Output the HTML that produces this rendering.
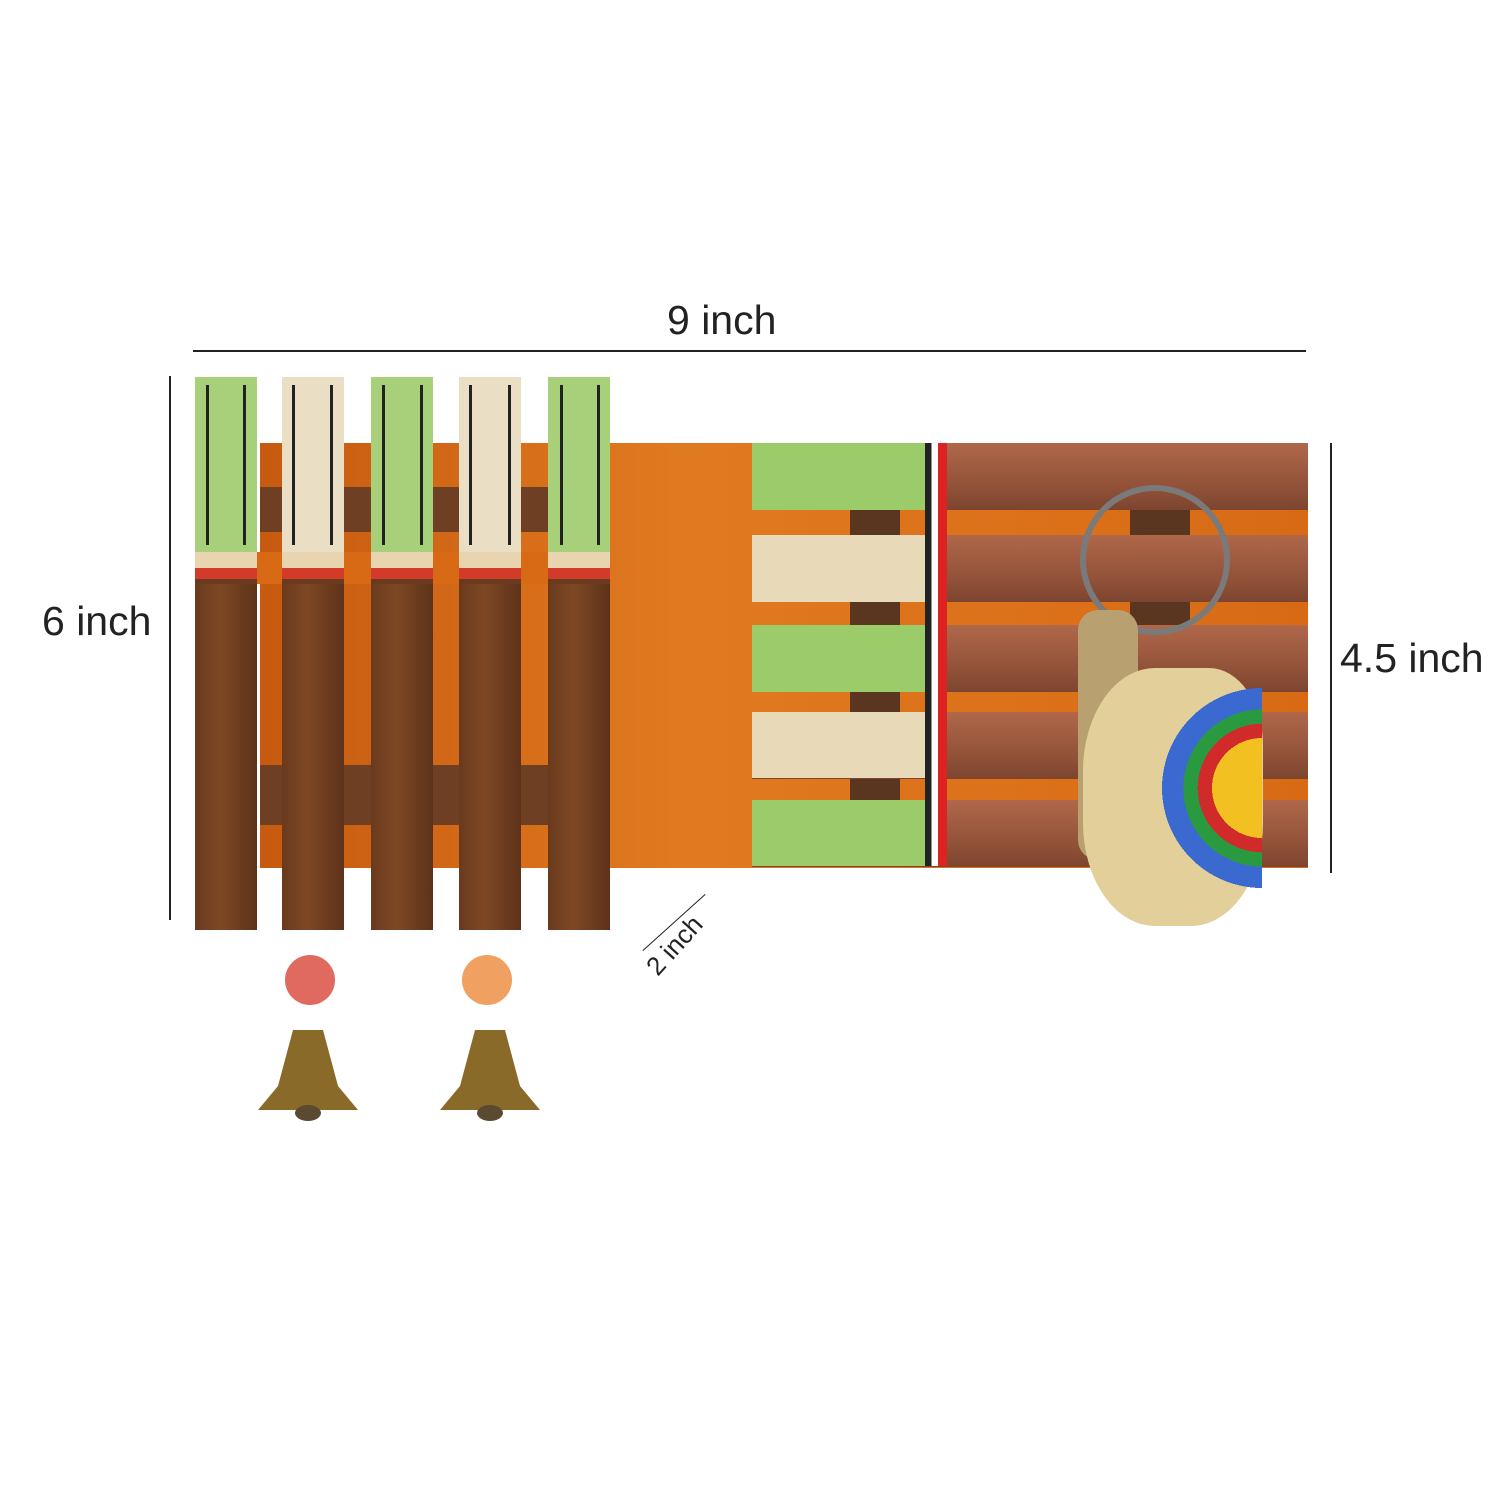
<!DOCTYPE html>
<html><head><meta charset="utf-8"><style>
body{margin:0;width:1500px;height:1500px;background:#fff;position:relative;overflow:hidden;font-family:"Liberation Sans",sans-serif}
div{position:absolute}
.t{color:#222;font-size:41px;white-space:nowrap}
.vs{width:62px;top:377px;height:553px;background:linear-gradient(90deg,#6a3a1e,#7e4824 40%,#5e321a)}
.hs{left:752px;width:556px;height:67px;background:linear-gradient(#b0674a,#94543a 60%,#7d452f)}
.ln{width:3px;height:160px;top:385px;background:#222}
</style></head><body>
<div class="t" style="left:667px;top:297px">9 inch</div>
<div style="left:193px;top:350px;width:1113px;height:2px;background:#222"></div>
<div style="left:169px;top:376px;width:2px;height:544px;background:#222"></div>
<div class="t" style="left:42px;top:598px">6 inch</div>
<div style="left:1330px;top:443px;width:2px;height:430px;background:#222"></div>
<div class="t" style="left:1340px;top:635px">4.5 inch</div>
<div style="left:632px;top:922px;width:84px;height:1px;background:#222;transform:rotate(-42deg)"></div>
<div class="t" style="left:640px;top:930px;font-size:26px;transform:rotate(-48deg)">2 inch</div>

<div style="left:260px;top:443px;width:1048px;height:425px;background:linear-gradient(90deg,#c65a10,#e07a20 40%,#d86a15)"></div>
<div style="left:260px;top:487px;width:350px;height:45px;background:#6e3f22"></div>
<div style="left:260px;top:765px;width:350px;height:60px;background:#6e3f22"></div>
<div style="left:850px;top:510px;width:50px;height:290px;background:#5a3520"></div>
<div style="left:1130px;top:510px;width:60px;height:290px;background:#5a3520"></div>

<div class="hs" style="top:443px"></div>
<div class="hs" style="top:535px"></div>
<div class="hs" style="top:625px"></div>
<div class="hs" style="top:712px"></div>
<div class="hs" style="top:800px"></div>
<div style="left:752px;top:443px;width:190px;height:67px;background:#9ccb6a"></div>
<div style="left:752px;top:535px;width:190px;height:67px;background:#e8d9b8"></div>
<div style="left:752px;top:625px;width:190px;height:67px;background:#9ccb6a"></div>
<div style="left:752px;top:712px;width:190px;height:66px;background:#e8d9b8"></div>
<div style="left:752px;top:800px;width:190px;height:66px;background:#9ccb6a"></div>
<div style="left:925px;top:443px;width:22px;height:423px;background:linear-gradient(90deg,#222 0 30%,#fff 30% 60%,#d22 60%)"></div>

<div class="vs" style="left:195px"></div>
<div class="vs" style="left:282px"></div>
<div class="vs" style="left:371px"></div>
<div class="vs" style="left:459px"></div>
<div class="vs" style="left:548px"></div>
<div style="left:195px;top:377px;width:62px;height:175px;background:#a8d07a"></div>
<div style="left:282px;top:377px;width:62px;height:175px;background:#eadfc4"></div>
<div style="left:371px;top:377px;width:62px;height:175px;background:#a8d07a"></div>
<div style="left:459px;top:377px;width:62px;height:175px;background:#eadfc4"></div>
<div style="left:548px;top:377px;width:62px;height:175px;background:#a8d07a"></div>
<div class="ln" style="left:206px"></div><div class="ln" style="left:243px"></div>
<div class="ln" style="left:292px"></div><div class="ln" style="left:330px"></div>
<div class="ln" style="left:382px"></div><div class="ln" style="left:420px"></div>
<div class="ln" style="left:469px"></div><div class="ln" style="left:508px"></div>
<div class="ln" style="left:560px"></div><div class="ln" style="left:597px"></div>
<div style="left:195px;top:552px;width:415px;height:32px;background:linear-gradient(#e8d5b0 0 50%,#d23a2a 50% 85%,#6a3a1e 85%)"></div>
<div style="left:257px;top:552px;width:25px;height:32px;background:#d86a15"></div>
<div style="left:344px;top:552px;width:27px;height:32px;background:#d86a15"></div>
<div style="left:433px;top:552px;width:26px;height:32px;background:#d86a15"></div>
<div style="left:521px;top:552px;width:27px;height:32px;background:#d86a15"></div>

<div style="left:1080px;top:485px;width:150px;height:150px;border:6px solid #7a7a7a;border-radius:50%;box-sizing:border-box"></div>
<div style="left:1078px;top:610px;width:60px;height:250px;background:#b8a070;border-radius:20px"></div>
<div style="left:1083px;top:668px;width:180px;height:258px;background:#e2cf9a;border-radius:40% 30% 40% 40%"></div>
<div style="left:1160px;top:688px;width:102px;height:200px;background:radial-gradient(circle at 100% 50%,#f2c020 0 35%,#d02a2a 35% 45%,#2a9a40 45% 55%,#3a6ad0 55% 70%,transparent 70%)"></div>

<div style="left:285px;top:955px;width:50px;height:50px;border-radius:50%;background:#e06a60"></div>
<div style="left:258px;top:1030px;width:100px;height:80px;background:#8a6a28;clip-path:polygon(35% 0,65% 0,80% 70%,100% 100%,0 100%,20% 70%)"></div>
<div style="left:295px;top:1105px;width:26px;height:16px;border-radius:50%;background:#5a4a30"></div>
<div style="left:462px;top:955px;width:50px;height:50px;border-radius:50%;background:#f0a060"></div>
<div style="left:440px;top:1030px;width:100px;height:80px;background:#8a6a28;clip-path:polygon(35% 0,65% 0,80% 70%,100% 100%,0 100%,20% 70%)"></div>
<div style="left:477px;top:1105px;width:26px;height:16px;border-radius:50%;background:#5a4a30"></div>
</body></html>
